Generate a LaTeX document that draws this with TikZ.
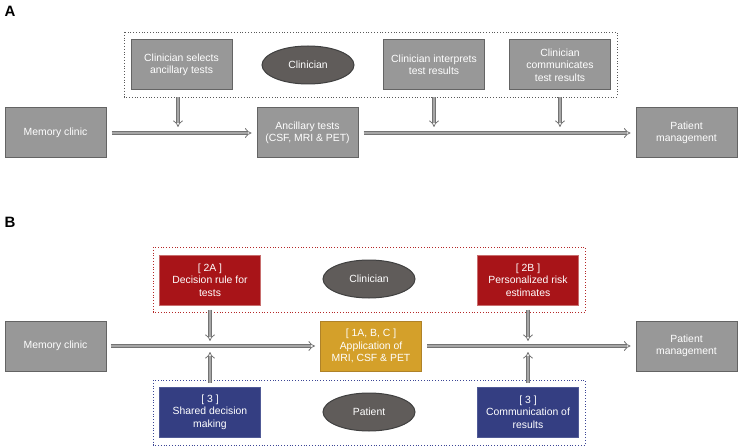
\documentclass[tikz,border=0pt]{standalone}
\usepackage{fontspec}
\setmainfont{Liberation Sans}
\usetikzlibrary{shapes.geometric, arrows.meta, positioning, calc}

\definecolor{boxgray}{RGB}{152,152,152}
\definecolor{boxedge}{RGB}{100,100,100}
\definecolor{boxred}{RGB}{168,20,24}
\definecolor{rededge}{RGB}{200,110,110}
\definecolor{boxgold}{RGB}{212,160,42}
\definecolor{goldedge}{RGB}{175,130,40}
\definecolor{boxblue}{RGB}{52,62,130}
\definecolor{blueedge}{RGB}{80,90,150}
\definecolor{ovalgray}{RGB}{96,92,90}
\definecolor{dotred}{RGB}{180,40,40}
\definecolor{dotblue}{RGB}{60,70,150}

\begin{document}
\begin{tikzpicture}[
    x=1pt, y=-1pt,
    every node/.style={font=\fontsize{10.4}{12.5}\selectfont, text=white},
    box/.style={draw=boxedge, line width=1pt, fill=boxgray, minimum width=101pt, minimum height=50pt, align=center, inner sep=2pt},
    redbox/.style={box, draw=rededge, fill=boxred},
    goldbox/.style={box, draw=goldedge, fill=boxgold},
    bluebox/.style={box, draw=blueedge, fill=boxblue},
    actor/.style={draw=black!75, line width=1pt, ellipse, fill=ovalgray, minimum width=92pt, minimum height=38pt},
    group/.style={draw=black!65, dotted, line width=0.8pt},
    flow/.style={draw=black!55, line width=0.8pt, double=gray!70, double distance=2.6pt, -{Implies}, shorten >=1pt},
    panel/.style={text=black, font=\fontsize{15}{15}\selectfont\bfseries}
]
    \useasboundingbox (0,0) rectangle (738,446);

    % Panel A
    \node (lbl_a) [panel] at (10, 11) {A};
    \draw [group] (124, 32) rectangle (617, 97);
    \node (sel_a)   [box] at (181.5, 65) {Clinician selects\\ancillary tests};
    \node (clin_a)  [actor] at (308, 65) {Clinician};
    \node (int_a)   [box] at (434, 65) {Clinician interprets\\test results};
    \node (com_a)   [box] at (560, 65) {Clinician\\communicates\\test results};
    \node (mc_a)    [box] at (55.5, 133) {Memory clinic};
    \node (anc_a)   [box] at (307.5, 133) {Ancillary tests\\(CSF, MRI \& PET)};
    \node (pm_a)    [box] at (686.5, 133) {Patient\\management};

    \coordinate (sel_hit) at (178, 128);
    \coordinate (int_hit) at (434, 128);
    \coordinate (com_hit) at (560, 128);

    \draw [flow, shorten <=5pt, shorten >=5pt] (mc_a) -- (anc_a);
    \draw [flow, shorten <=5pt, shorten >=5pt] (anc_a) -- (pm_a);
    \draw [flow, shorten <=7pt] (sel_a.south -| sel_hit) -- (sel_hit);
    \draw [flow, shorten <=7pt] (int_a) -- (int_hit);
    \draw [flow, shorten <=7pt] (com_a) -- (com_hit);

    % Panel B
    \node (lbl_b) [panel] at (10, 222) {B};
    \draw [group, draw=dotred] (153, 247) rectangle (585, 312);
    \draw [group, draw=dotblue] (153, 380) rectangle (585, 445);
    \node (dec_b)   [redbox] at (210, 280) {[ 2A ]\\Decision rule for\\tests};
    \node (clin_b)  [actor] at (369, 279) {Clinician};
    \node (risk_b)  [redbox] at (528, 280) {[ 2B ]\\Personalized risk\\estimates};
    \node (mc_b)    [box] at (55.5, 346) {Memory clinic};
    \node (app_b)   [goldbox] at (371, 346) {[ 1A, B, C ]\\Application of\\MRI, CSF \& PET};
    \node (pm_b)    [box] at (686.5, 346) {Patient\\management};
    \node (sdm_b)   [bluebox] at (210, 412) {[ 3 ]\\Shared decision\\making};
    \node (pat_b)   [actor] at (369, 412) {Patient};
    \node (res_b)   [bluebox] at (528, 412) {[ 3 ]\\Communication of\\results};

    \coordinate (dec_hit) at (210, 342);
    \coordinate (risk_hit) at (528, 342);
    \coordinate (sdm_hit) at (210, 351);
    \coordinate (res_hit) at (528, 351);

    \draw [flow, shorten <=4pt, shorten >=5pt] (mc_b) -- (app_b);
    \draw [flow, shorten <=5pt, shorten >=5pt] (app_b) -- (pm_b);
    \draw [flow, shorten <=4pt] (dec_b) -- (dec_hit);
    \draw [flow, shorten <=4pt] (risk_b) -- (risk_hit);
    \draw [flow, shorten <=4pt] (sdm_b) -- (sdm_hit);
    \draw [flow, shorten <=4pt] (res_b) -- (res_hit);
\end{tikzpicture}
\end{document}
